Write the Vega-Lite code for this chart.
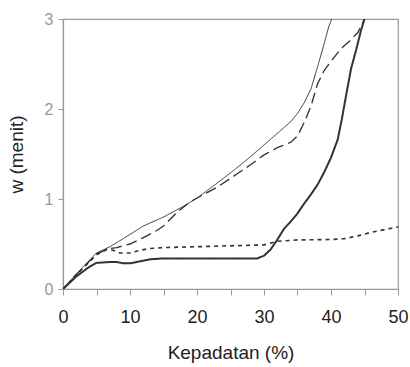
{
  "$schema": "https://vega.github.io/schema/vega-lite/v6.json",
  "autosize": "none",
  "width": 335,
  "height": 270,
  "padding": {"left": 63, "top": 19, "right": 12, "bottom": 78},
  "background": "white",
  "config": {
    "view": {"stroke": "#999999", "strokeWidth": 1.2},
    "font": "Liberation Sans",
    "axis": {
      "grid": false,
      "domainColor": "#999999",
      "domainWidth": 1.2,
      "tickColor": "#999999",
      "tickWidth": 1,
      "labelFont": "Liberation Sans",
      "titleFont": "Liberation Sans",
      "titleFontSize": 19,
      "titleFontWeight": "normal",
      "titleColor": "#222222"
    }
  },
  "data": {
    "values": [
      {"s": "A", "x": 0, "y": 0}, {"s": "A", "x": 2, "y": 0.17}, {"s": "A", "x": 5, "y": 0.40}, {"s": "A", "x": 7, "y": 0.47},
      {"s": "A", "x": 9, "y": 0.56}, {"s": "A", "x": 12, "y": 0.70}, {"s": "A", "x": 15, "y": 0.80}, {"s": "A", "x": 18, "y": 0.92},
      {"s": "A", "x": 20, "y": 1.01}, {"s": "A", "x": 22, "y": 1.12}, {"s": "A", "x": 25, "y": 1.29}, {"s": "A", "x": 27.5, "y": 1.44},
      {"s": "A", "x": 30, "y": 1.60}, {"s": "A", "x": 32, "y": 1.73}, {"s": "A", "x": 34, "y": 1.86}, {"s": "A", "x": 35, "y": 1.95},
      {"s": "A", "x": 36, "y": 2.07}, {"s": "A", "x": 37, "y": 2.22}, {"s": "A", "x": 38, "y": 2.47}, {"s": "A", "x": 39, "y": 2.73},
      {"s": "A", "x": 39.6, "y": 2.9}, {"s": "A", "x": 40.1, "y": 3.0},

      {"s": "B", "x": 0, "y": 0}, {"s": "B", "x": 2, "y": 0.16}, {"s": "B", "x": 5, "y": 0.39}, {"s": "B", "x": 7, "y": 0.45},
      {"s": "B", "x": 8, "y": 0.46}, {"s": "B", "x": 10, "y": 0.50}, {"s": "B", "x": 12, "y": 0.57}, {"s": "B", "x": 14, "y": 0.65},
      {"s": "B", "x": 15, "y": 0.70}, {"s": "B", "x": 17, "y": 0.85}, {"s": "B", "x": 19, "y": 0.97}, {"s": "B", "x": 21, "y": 1.05},
      {"s": "B", "x": 23, "y": 1.13}, {"s": "B", "x": 26, "y": 1.28}, {"s": "B", "x": 28, "y": 1.38}, {"s": "B", "x": 30, "y": 1.49},
      {"s": "B", "x": 32, "y": 1.57}, {"s": "B", "x": 34, "y": 1.63}, {"s": "B", "x": 35, "y": 1.70}, {"s": "B", "x": 36, "y": 1.85},
      {"s": "B", "x": 37, "y": 2.03}, {"s": "B", "x": 38, "y": 2.28}, {"s": "B", "x": 39, "y": 2.43}, {"s": "B", "x": 40, "y": 2.53},
      {"s": "B", "x": 41.5, "y": 2.67}, {"s": "B", "x": 43, "y": 2.77}, {"s": "B", "x": 44, "y": 2.85}, {"s": "B", "x": 44.5, "y": 2.92},
      {"s": "B", "x": 45, "y": 3.0},

      {"s": "C", "x": 0, "y": 0}, {"s": "C", "x": 2, "y": 0.16}, {"s": "C", "x": 5, "y": 0.38}, {"s": "C", "x": 6.5, "y": 0.44},
      {"s": "C", "x": 7.5, "y": 0.43}, {"s": "C", "x": 8.5, "y": 0.40}, {"s": "C", "x": 10, "y": 0.40}, {"s": "C", "x": 11.5, "y": 0.43},
      {"s": "C", "x": 13, "y": 0.45}, {"s": "C", "x": 15, "y": 0.46}, {"s": "C", "x": 20, "y": 0.47}, {"s": "C", "x": 25, "y": 0.48},
      {"s": "C", "x": 30, "y": 0.49}, {"s": "C", "x": 32, "y": 0.53}, {"s": "C", "x": 35, "y": 0.545}, {"s": "C", "x": 40, "y": 0.55},
      {"s": "C", "x": 42, "y": 0.56}, {"s": "C", "x": 44, "y": 0.59}, {"s": "C", "x": 46, "y": 0.63}, {"s": "C", "x": 48, "y": 0.66},
      {"s": "C", "x": 50, "y": 0.69},

      {"s": "D", "x": 0, "y": 0}, {"s": "D", "x": 2, "y": 0.14}, {"s": "D", "x": 4, "y": 0.25}, {"s": "D", "x": 5, "y": 0.29},
      {"s": "D", "x": 7, "y": 0.30}, {"s": "D", "x": 8, "y": 0.30}, {"s": "D", "x": 9, "y": 0.285}, {"s": "D", "x": 10, "y": 0.285},
      {"s": "D", "x": 11, "y": 0.30}, {"s": "D", "x": 13, "y": 0.33}, {"s": "D", "x": 15, "y": 0.34}, {"s": "D", "x": 20, "y": 0.34},
      {"s": "D", "x": 25, "y": 0.34}, {"s": "D", "x": 29, "y": 0.34}, {"s": "D", "x": 30, "y": 0.37}, {"s": "D", "x": 31, "y": 0.44},
      {"s": "D", "x": 32, "y": 0.55}, {"s": "D", "x": 33, "y": 0.67}, {"s": "D", "x": 34, "y": 0.75}, {"s": "D", "x": 35, "y": 0.84},
      {"s": "D", "x": 36, "y": 0.95}, {"s": "D", "x": 37, "y": 1.05}, {"s": "D", "x": 38, "y": 1.16}, {"s": "D", "x": 39, "y": 1.30},
      {"s": "D", "x": 40, "y": 1.46}, {"s": "D", "x": 41, "y": 1.66}, {"s": "D", "x": 41.6, "y": 1.88}, {"s": "D", "x": 42.3, "y": 2.17},
      {"s": "D", "x": 43, "y": 2.45}, {"s": "D", "x": 43.8, "y": 2.67}, {"s": "D", "x": 44.5, "y": 2.88}, {"s": "D", "x": 45, "y": 3.0}
    ]
  },
  "mark": {"type": "line", "color": "#333333", "clip": true, "strokeCap": "butt"},
  "encoding": {
    "x": {
      "field": "x", "type": "quantitative",
      "scale": {"domain": [0, 50], "nice": false},
      "axis": {
        "title": "Kepadatan (%)",
        "values": [0, 5, 10, 15, 20, 25, 30, 35, 40, 45, 50],
        "labelExpr": "datum.value % 10 === 0 ? datum.label : ''",
        "tickSize": 6,
        "labelPadding": 13,
        "labelFontSize": 18,
        "labelColor": "#222222",
        "labelFlush": false,
        "titlePadding": 17
      }
    },
    "y": {
      "field": "y", "type": "quantitative",
      "scale": {"domain": [0, 3], "nice": false},
      "axis": {
        "title": "w (menit)",
        "values": [0, 1, 2, 3],
        "tickSize": 5,
        "labelPadding": 5,
        "labelFontSize": 16,
        "labelColor": "#999999",
        "labelFlush": false,
        "titlePadding": 18
      }
    },
    "detail": {"field": "s"},
    "strokeDash": {
      "field": "s", "type": "nominal", "legend": null,
      "scale": {"domain": ["A", "B", "C", "D"], "range": [[1, 0], [11, 5], [4, 4], [1, 0]]}
    },
    "strokeWidth": {
      "field": "s", "type": "nominal", "legend": null,
      "scale": {"domain": ["A", "B", "C", "D"], "range": [1, 2, 2, 1.4]}
    }
  }
}
